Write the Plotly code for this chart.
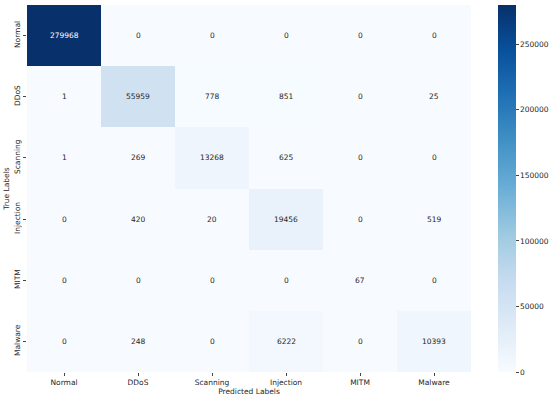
import plotly.graph_objects as go

labels = ["Normal", "DDoS", "Scanning", "Injection", "MITM", "Malware"]
matrix = [
    [279968, 0, 0, 0, 0, 0],
    [1, 55959, 778, 851, 0, 25],
    [1, 269, 13268, 625, 0, 0],
    [0, 420, 20, 19456, 0, 519],
    [0, 0, 0, 0, 67, 0],
    [0, 248, 0, 6222, 0, 10393],
]
cbar_ticks = [0, 50000, 100000, 150000, 200000, 250000]

blues = ["#f7fbff", "#deebf7", "#c6dbef", "#9ecae1", "#6baed6",
         "#4292c6", "#2171b5", "#08519c", "#08306b"]
colorscale = [[i / 8, c] for i, c in enumerate(blues)]

vmax = max(max(r) for r in matrix)
fnt = dict(family="DejaVu Sans", size=7.5, color="#262626")

fig = go.Figure(go.Heatmap(
    z=matrix, x=labels, y=labels, colorscale=colorscale,
    zmin=0, zmax=vmax, xgap=0, ygap=0,
    colorbar=dict(thickness=18, len=1, lenmode="fraction", y=0.5, yanchor="middle",
                  x=1, xpad=27, ypad=0, xanchor="left", outlinewidth=0,
                  tickvals=cbar_ticks, tickformat="d", ticks="outside", ticklen=3,
                  tickcolor="#444", tickfont=fnt),
))

for i, row in enumerate(matrix):
    for j, v in enumerate(row):
        fig.add_annotation(x=labels[j], y=labels[i], text=str(v), showarrow=False,
                           font=dict(family="DejaVu Sans", size=7.5,
                                     color="white" if v > vmax * 0.5 else "#262626"))

fig.update_layout(
    width=550, height=397,
    margin=dict(l=27, r=79, t=5, b=25, autoexpand=False),
    paper_bgcolor="white", plot_bgcolor="white",
    font=fnt,
    xaxis=dict(title=dict(text="Predicted Labels", font=fnt, standoff=2),
               automargin=False,
               ticks="outside", ticklen=3, tickcolor="#444", showgrid=False, tickfont=fnt),
    yaxis=dict(title=dict(text="True Labels", font=fnt, standoff=2),
               automargin=False,
               ticks="outside", ticklen=3, tickcolor="#444", showgrid=False,
               autorange="reversed", tickangle=-90, tickfont=fnt),
)

fig.write_html("out.html", config={"displayModeBar": False},
               post_script="document.body.style.margin='0';")
